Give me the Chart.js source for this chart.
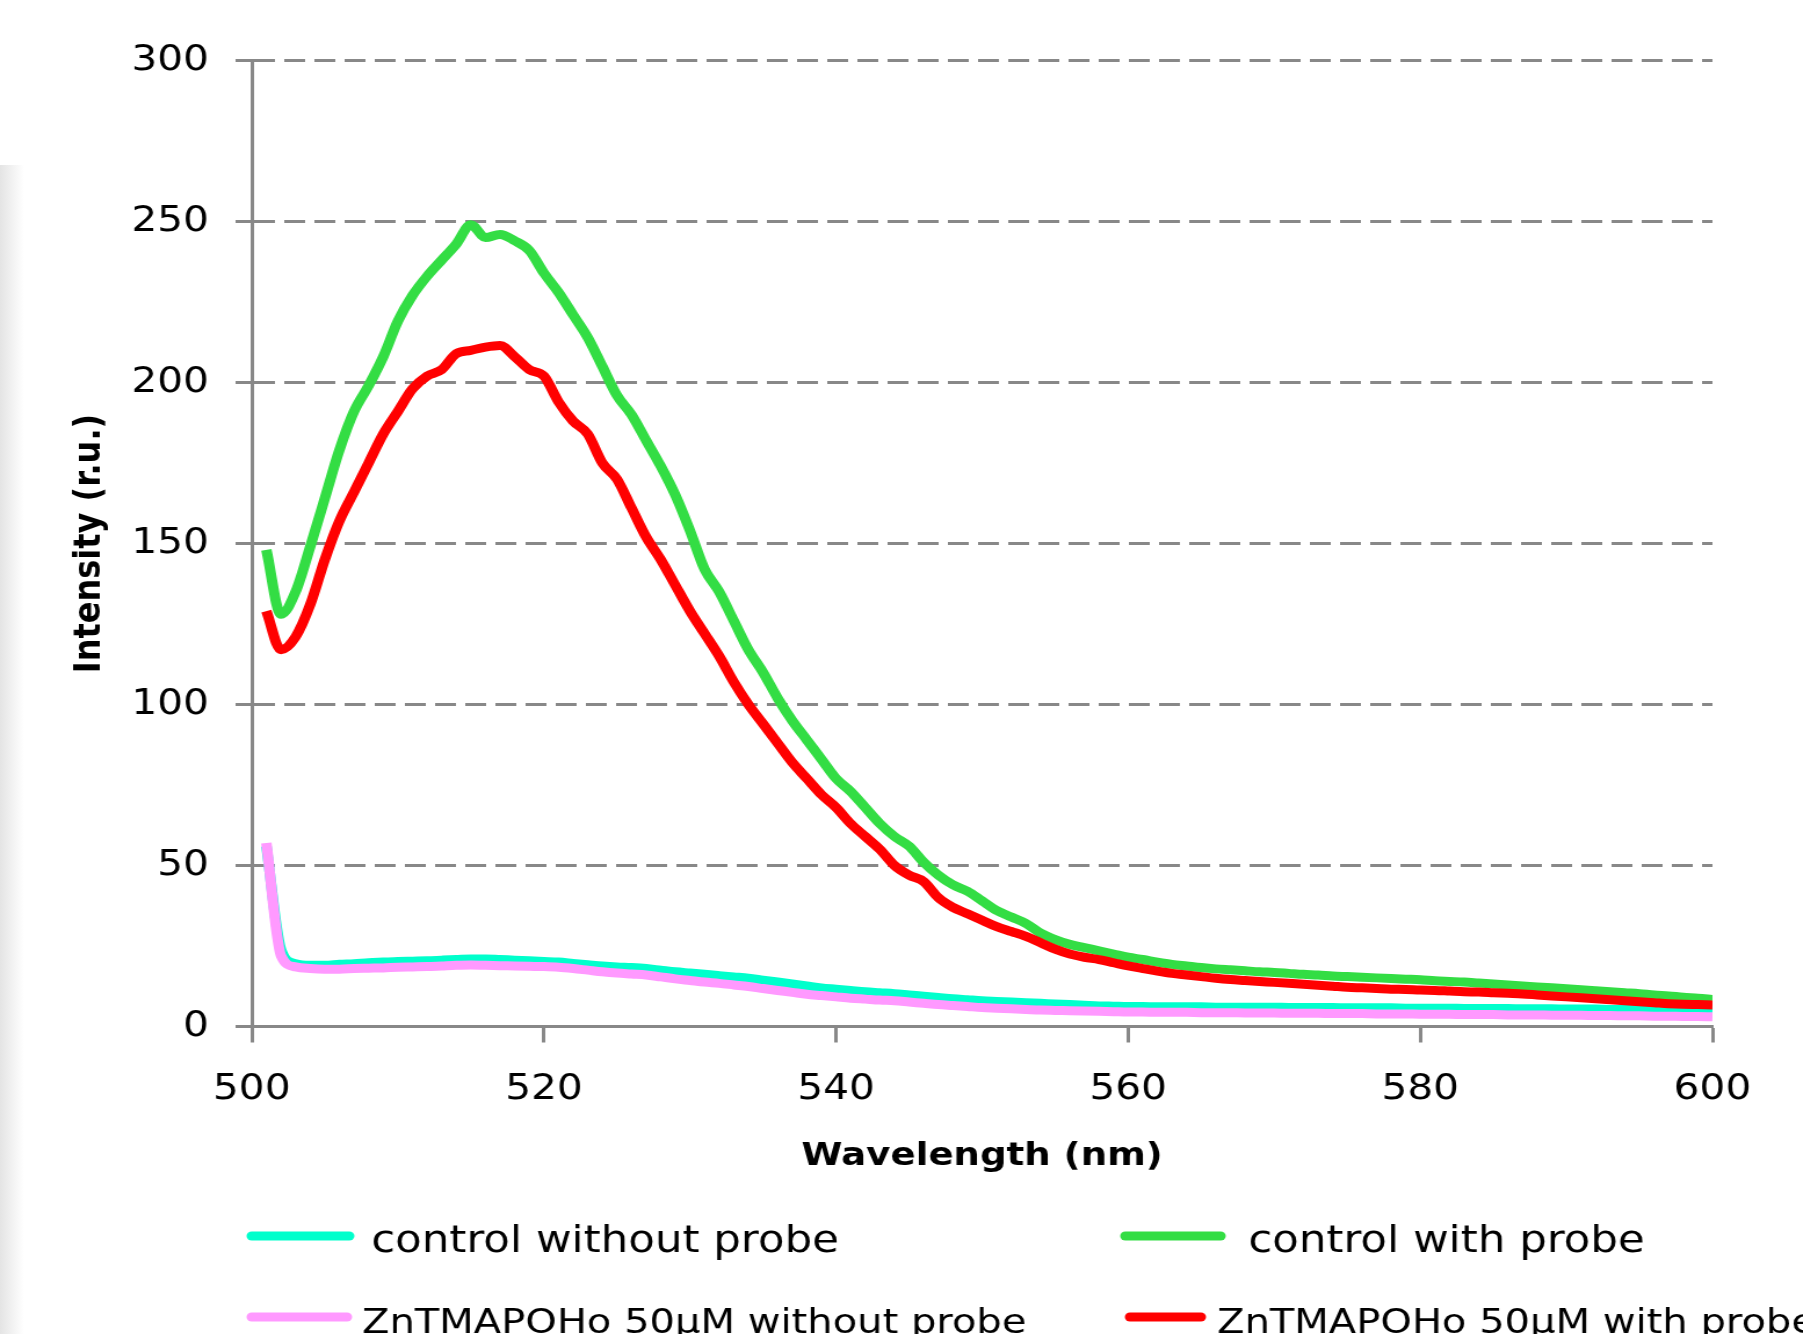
<!DOCTYPE html>
<html>
<head>
<meta charset="utf-8">
<script src="https://cdn.jsdelivr.net/npm/chart.js@4.4.0/dist/chart.umd.min.js"></script>
<style>
  html, body { margin: 0; padding: 0; background: #fff; overflow: hidden; }
  #shade { position: absolute; left: 0; top: 165px; width: 24px; height: 1169px;
           background: linear-gradient(to right, #e4e4e4, #ffffff); }
  /* the source image is stretched sideways, so the chart is drawn narrower and widened */
  #wrap { position: absolute; left: 0; top: 0; width: 1554px; height: 1334px;
          transform: scaleX(1.1602); transform-origin: 0 0; }
</style>
</head>
<body>
<div id="shade"></div>
<div id="wrap"><canvas id="myChart"></canvas></div>
<script>
const wavelength = [501,502,503,504,505,506,507,508,509,510,511,512,513,514,515,516,517,518,519,520,
  521,522,523,524,525,526,527,528,529,530,531,532,533,534,535,536,537,538,539,540,
  541,542,543,544,545,546,547,548,549,550,551,552,553,554,555,556,557,558,559,560,
  561,562,563,564,565,566,567,568,569,570,571,572,573,574,575,576,577,578,579,580,
  581,582,583,584,585,586,587,588,589,590,591,592,593,594,595,596,597,598,599,600];

const controlNoProbe = [56,24,19.5,19,19,19.3,19.5,19.8,20,20.2,20.3,20.4,20.6,20.8,21,21,20.8,20.6,20.4,20.2,
  20,19.6,19.2,18.8,18.5,18.3,18,17.5,17,16.6,16.2,15.8,15.4,15,14.4,13.8,13.2,12.6,12,11.6,
  11.2,10.8,10.5,10.2,9.8,9.4,9,8.6,8.3,8,7.8,7.6,7.4,7.2,7,6.8,6.6,6.4,6.3,6.2,
  6.2,6.1,6.1,6.1,6.1,6,6,6,6,6,5.9,5.9,5.9,5.9,5.8,5.8,5.8,5.8,5.7,5.7,
  5.7,5.7,5.6,5.6,5.6,5.6,5.5,5.5,5.5,5.4,5.4,5.4,5.3,5.3,5.3,5.2,5.2,5.1,5.1,5];

const controlProbe = [148,128,135,149,164,179,191,199,208,219,227,233,238,243,249,245,246,244,241,234,
  228,221,214,205,196,190,182,174,165,154,142,135,126,117,110,102,95,89,83,77,
  73,68,63,59,56,51,47,44,42,39,36,34,32,29,27,25.5,24.5,23.5,22.5,21.5,
  20.8,20,19.3,18.8,18.3,17.9,17.6,17.3,17,16.8,16.5,16.2,16,15.7,15.5,15.3,15.1,14.9,14.7,14.5,
  14.2,14,13.8,13.5,13.2,12.9,12.6,12.3,12,11.7,11.4,11.1,10.8,10.5,10.2,9.8,9.5,9.1,8.8,8.4];

const znNoProbe = [57,22,18.5,18,17.8,17.8,18,18.1,18.2,18.4,18.5,18.6,18.8,19,19.1,19,18.9,18.8,18.7,18.6,
  18.4,18,17.5,17,16.6,16.3,16,15.4,14.8,14.3,13.8,13.4,12.9,12.4,11.8,11.2,10.6,10,9.6,9.2,
  8.8,8.5,8.2,8,7.6,7.2,6.8,6.5,6.2,5.9,5.7,5.5,5.3,5.1,5,4.9,4.8,4.7,4.6,4.5,
  4.5,4.4,4.4,4.4,4.3,4.3,4.3,4.2,4.2,4.2,4.1,4.1,4.1,4,4,4,3.9,3.9,3.9,3.8,
  3.8,3.8,3.7,3.7,3.7,3.6,3.6,3.6,3.5,3.5,3.5,3.4,3.4,3.3,3.3,3.2,3.2,3.1,3.1,3];

const znProbe = [129,117,121,131,145,157,166,175,184,191,198,202,204,209,210,211,211.5,208,204,202,
  194,188,184,175,170,161,152,145,137,129,122,115,107,100,94,88,82,77,72,68,
  63,59,55,50,47,45,40,37,35,33,31,29.5,28,26,24,22.5,21.5,20.8,19.8,18.8,
  18,17.2,16.5,16,15.5,15,14.6,14.3,14,13.7,13.4,13.1,12.8,12.5,12.2,12,11.8,11.6,11.5,11.3,
  11.2,11,10.8,10.7,10.5,10.3,10.1,9.8,9.5,9.2,8.9,8.6,8.3,8,7.7,7.4,7.1,6.9,6.8,6.7];

const seriesLabels = ['control without probe', 'control with probe',
  'ZnTMAPOHo 50\u03bcM without probe', 'ZnTMAPOHo 50\u03bcM with probe'];
const seriesColors = ['#00ffcc', '#33dd44', '#ff99ff', '#ff0000'];
const seriesValues = [controlNoProbe, controlProbe, znNoProbe, znProbe];
const drawOrder = [4, 3, 2, 1];
const xTicks = [500, 520, 540, 560, 580, 600];
const yTicks = [0, 50, 100, 150, 200, 250, 300];

// legend slots: [markStart, markEnd, textX, markY, fontSize]
const legendSlots = [[213, 305, 320, 1236, 37.5], [966, 1056, 1076, 1236, 37.5],
                     [213, 303, 312, 1317, 34.5], [970, 1039, 1049, 1317, 34.5]];

const legendPlugin = {
  id: 'twoColumnLegend',
  afterDraw(chart) {
    const ctx = chart.ctx;
    ctx.save();
    chart.data.datasets.forEach((ds, i) => {
      const s = legendSlots[i];
      ctx.strokeStyle = ds.borderColor;
      ctx.lineWidth = 9;
      ctx.lineCap = 'round';
      ctx.beginPath();
      ctx.moveTo(s[0] + 4, s[3]);
      ctx.lineTo(s[1] - 4, s[3]);
      ctx.stroke();
      ctx.fillStyle = '#000';
      ctx.font = s[4] + 'px "DejaVu Sans"';
      ctx.textBaseline = 'alphabetic';
      ctx.fillText(ds.label, s[2], s[3] + 16);
    });
    ctx.restore();
  }
};

const ctx = document.getElementById('myChart');
new Chart(ctx, {
  type: 'line',
  data: {
    datasets: seriesValues.map((vals, i) => ({
      label: seriesLabels[i],
      data: wavelength.map((w, j) => ({ x: w, y: vals[j] })),
      borderColor: seriesColors[i],
      backgroundColor: seriesColors[i],
      borderWidth: 9,
      pointRadius: 0,
      fill: false,
      cubicInterpolationMode: 'monotone',
      order: drawOrder[i]
    }))
  },
  options: {
    responsive: true,
    maintainAspectRatio: false,
    animation: false,
    devicePixelRatio: 1,
    layout: { padding: { top: 60.5, right: 78, bottom: 137.5, left: 0 } },
    plugins: {
      legend: { display: false },
      tooltip: { enabled: false }
    },
    scales: {
      x: {
        type: 'linear',
        min: 500,
        max: 600,
        afterBuildTicks: (scale) => { scale.ticks = xTicks.map(v => ({ value: v })); },
        afterFit: (scale) => { scale.height = 170; },
        ticks: { color: '#000', padding: 26, font: { family: 'DejaVu Sans', size: 35 } },
        grid: { drawOnChartArea: false, drawTicks: true, tickLength: 16, tickColor: '#888', tickWidth: 3 },
        border: { color: '#888', width: 3 },
        title: {
          display: true,
          text: 'Wavelength (nm)',
          color: '#000',
          font: { family: 'DejaVu Sans', size: 32, weight: 'bold' },
          padding: { top: 0, bottom: 21 }
        }
      },
      y: {
        min: 0,
        max: 300,
        afterBuildTicks: (scale) => { scale.ticks = yTicks.map(v => ({ value: v })); },
        afterFit: (scale) => { scale.width = 217; },
        ticks: { color: '#000', padding: 23, font: { family: 'DejaVu Sans', size: 35 } },
        grid: { color: '#888', lineWidth: 3, tickLength: 14, tickColor: '#888', tickWidth: 3 },
        border: { color: '#888', width: 3, dash: [18, 8] },
        title: {
          display: true,
          text: 'Intensity (r.u.)',
          color: '#000',
          font: { family: 'DejaVu Sans', size: 32, weight: 'bold' },
          padding: { top: 58, bottom: 0 }
        }
      }
    }
  },
  plugins: [legendPlugin]
});
</script>
</body>
</html>
